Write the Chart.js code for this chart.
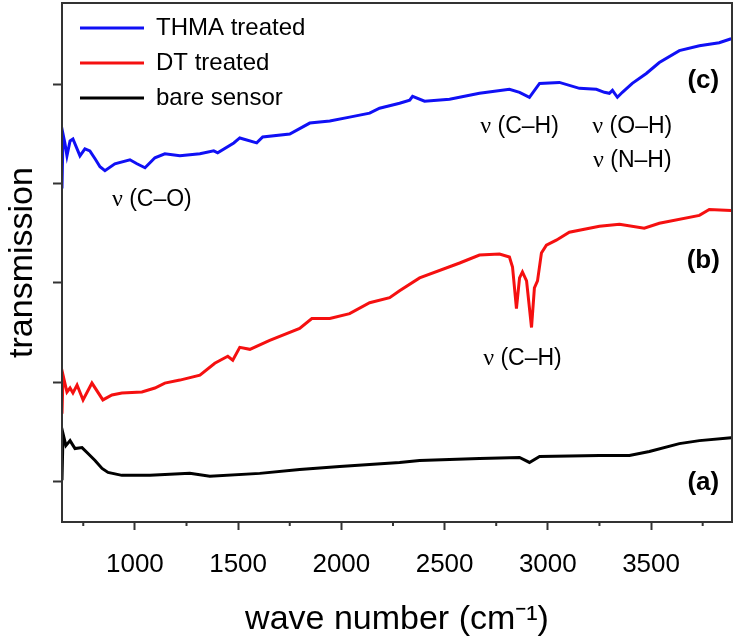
<!DOCTYPE html>
<html>
<head>
<meta charset="utf-8">
<script src="https://cdn.jsdelivr.net/npm/chart.js@4/dist/chart.umd.min.js"></script>
<style>
  html, body { margin: 0; padding: 0; background: #fff; }
</style>
</head>
<body>
<canvas id="chIR" width="737" height="644"></canvas>
<script>
// IR spectra
var seriesNames = [ 'THMA treated', 'DT treated', 'bare sensor' ];
var colors = [ '#1010f5', '#f51010', '#000000' ];

var thmaWn = [ 647, 652, 661, 671, 686, 700, 724, 734, 758, 782, 807, 831, 855, 903, 976, 1010, 1049, 1097, 1145, 1218,
	1315, 1382, 1401, 1479, 1508, 1590, 1619, 1750, 1847, 1944, 2040, 2137, 2185, 2282, 2331, 2345, 2403, 2524, 2669, 2814,
	2863, 2911, 2960, 3056, 3153, 3235, 3274, 3298, 3313, 3337, 3361, 3409, 3477, 3540, 3637, 3734, 3830, 3888 ];
var thmaT = [ 2.95, 3.50, 3.41, 3.28, 3.43, 3.45, 3.33, 3.28, 3.35, 3.33, 3.25, 3.17, 3.13, 3.20, 3.24, 3.20, 3.16, 3.26, 3.30, 3.28,
	3.30, 3.33, 3.31, 3.41, 3.46, 3.41, 3.47, 3.50, 3.61, 3.63, 3.67, 3.71, 3.76, 3.81, 3.84, 3.88, 3.83, 3.85, 3.91, 3.95,
	3.92, 3.87, 4.01, 4.02, 3.96, 3.95, 3.92, 3.91, 3.94, 3.87, 3.92, 4.01, 4.11, 4.22, 4.34, 4.39, 4.42, 4.46 ];

var dtWn = [ 647, 652, 671, 686, 700, 720, 749, 792, 845, 889, 937, 1034, 1097, 1145, 1218, 1315, 1387, 1450, 1474, 1508,
	1557, 1653, 1798, 1857, 1944, 2040, 2137, 2234, 2282, 2379, 2573, 2669, 2766, 2814, 2829, 2848, 2863, 2877, 2897, 2921,
	2935, 2950, 2969, 2993, 3041, 3104, 3250, 3347, 3467, 3540, 3734, 3782, 3888 ];
var dtT = [ 0.68, 1.07, 0.90, 0.94, 0.89, 0.97, 0.82, 0.99, 0.82, 0.87, 0.89, 0.90, 0.94, 0.99, 1.02, 1.07, 1.19, 1.26, 1.22, 1.35,
	1.33, 1.42, 1.54, 1.64, 1.64, 1.69, 1.80, 1.85, 1.92, 2.05, 2.20, 2.28, 2.29, 2.26, 2.16, 1.74, 2.05, 2.11, 2.02, 1.55,
	1.95, 2.02, 2.30, 2.38, 2.43, 2.51, 2.57, 2.59, 2.55, 2.60, 2.68, 2.74, 2.73 ];

var bareWn = [ 647, 652, 666, 686, 710, 744, 773, 807, 841, 870, 937, 1073, 1266, 1363, 1605, 1798, 1992, 2137, 2282, 2379,
	2669, 2863, 2911, 2960, 3250, 3395, 3492, 3637, 3734, 3888 ];
var bareT = [ 0.01, 0.48, 0.36, 0.41, 0.33, 0.34, 0.28, 0.21, 0.13, 0.09, 0.06, 0.06, 0.08, 0.05, 0.08, 0.12, 0.15, 0.17, 0.19, 0.21,
	0.23, 0.24, 0.19, 0.25, 0.26, 0.26, 0.30, 0.38, 0.41, 0.44 ];

var xMajorTicks = [ 1000, 1500, 2000, 2500, 3000, 3500 ];
var xMinorTicks = [ 750, 1250, 1750, 2250, 2750, 3250, 3750 ];
var yTicks = [ 0, 1, 2, 3, 4 ];

// band labels: [wave number, transmission, greek, rest, bold]
var bandLabels = [
	[ 1082, 2.84, 'ν', ' (C–O)', false ],
	[ 2863, 3.57, 'ν', ' (C–H)', false ],
	[ 3409, 3.57, 'ν', ' (O–H)', false ],
	[ 3409, 3.23, 'ν', ' (N–H)', false ],
	[ 2877, 1.24, 'ν', ' (C–H)', false ],
	[ 3753, 4.04, '', '(c)', true ],
	[ 3753, 2.22, '', '(b)', true ],
	[ 3753, -0.02, '', '(a)', true ]
];

var axisColor = '#333333';
var sans = "'Liberation Sans', Arial, sans-serif";

function pairs(xs, ys) {
	return xs.map(function (x, i) { return { x: x, y: ys[i] }; });
}

var spectra = {
	datasets: [
		{ label: seriesNames[0], data: pairs(thmaWn, thmaT), borderColor: colors[0], backgroundColor: colors[0] },
		{ label: seriesNames[1], data: pairs(dtWn, dtT), borderColor: colors[1], backgroundColor: colors[1] },
		{ label: seriesNames[2], data: pairs(bareWn, bareT), borderColor: colors[2], backgroundColor: colors[2] }
	]
};
spectra.datasets.forEach(function (d) {
	d.borderWidth = 3;
	d.pointRadius = 0;
	d.tension = 0;
	d.pointStyle = 'line';
});

// frame, minor ticks and band labels
var decorations = {
	id: 'decorations',
	afterLayout: function (chart) {
		// nudge the legend a bit in from the frame
		chart.legend.left += 7;
		chart.legend.top += 5;
	},
	afterDraw: function (chart) {
		var ctx = chart.ctx;
		var a = chart.chartArea;
		var xs = chart.scales.x, ys = chart.scales.y;
		ctx.save();
		ctx.strokeStyle = axisColor;
		ctx.lineWidth = 2;
		ctx.strokeRect(a.left, a.top, a.right - a.left, a.bottom - a.top);
		xMinorTicks.forEach(function (v) {
			var px = xs.getPixelForValue(v);
			ctx.beginPath();
			ctx.moveTo(px, a.bottom);
			ctx.lineTo(px, a.bottom + 4);
			ctx.stroke();
		});
		ctx.fillStyle = '#000';
		ctx.textBaseline = 'middle';
		ctx.textAlign = 'left';
		bandLabels.forEach(function (b) {
			var cx = xs.getPixelForValue(b[0]);
			var cy = ys.getPixelForValue(b[1]);
			var greekFont = "24px 'Liberation Serif', 'Times New Roman', serif";
			var restFont = b[4] ? 'bold 26px ' + sans : '23px ' + sans;
			ctx.font = greekFont;
			var gw = b[2] ? ctx.measureText(b[2]).width : 0;
			ctx.font = restFont;
			var rw = ctx.measureText(b[3]).width;
			var x0 = cx - (gw + rw) / 2;
			if (b[2]) {
				ctx.font = greekFont;
				ctx.fillText(b[2], x0, cy);
			}
			ctx.font = restFont;
			ctx.fillText(b[3], x0 + gw, cy);
		});
		ctx.restore();
	}
};

new Chart(document.getElementById('chIR'), {
	type: 'line',
	data: spectra,
	plugins: [ decorations ],
	options: {
		responsive: false,
		animation: false,
		layout: { padding: { top: 3, right: 5, left: 0, bottom: 0 } },
		plugins: {
			tooltip: { enabled: false },
			legend: {
				position: 'chartArea',
				align: 'start',
				labels: {
					usePointStyle: true,
					pointStyle: 'line',
					pointStyleWidth: 64,
					padding: 11,
					color: '#000',
					font: { family: sans, size: 24 }
				}
			}
		},
		scales: {
			x: {
				type: 'linear',
				min: 647,
				max: 3892,
				afterBuildTicks: function (s) { s.ticks = xMajorTicks.map(function (v) { return { value: v }; }); },
				afterFit: function (s) { s.height = 122; },
				grid: { drawOnChartArea: false, tickLength: 8, tickWidth: 2, tickColor: axisColor },
				border: { color: axisColor, width: 2 },
				ticks: {
					color: '#000', padding: 19, maxRotation: 0, font: { family: sans, size: 26 },
					callback: function (v) { return String(v); }
				},
				title: { display: true, text: 'wave number (cm⁻¹)', color: '#000', font: { family: sans, size: 34 } }
			},
			y: {
				min: -0.41,
				max: 4.82,
				afterBuildTicks: function (s) { s.ticks = yTicks.map(function (v) { return { value: v }; }); },
				afterFit: function (s) { s.width = 62; },
				grid: { drawOnChartArea: false, tickLength: 9, tickWidth: 2, tickColor: axisColor },
				border: { color: axisColor, width: 2 },
				ticks: { display: false },
				title: { display: true, text: 'transmission', color: '#000', padding: { top: 2, bottom: 2 }, font: { family: sans, size: 34 } }
			}
		}
	}
});
</script>
</body>
</html>
